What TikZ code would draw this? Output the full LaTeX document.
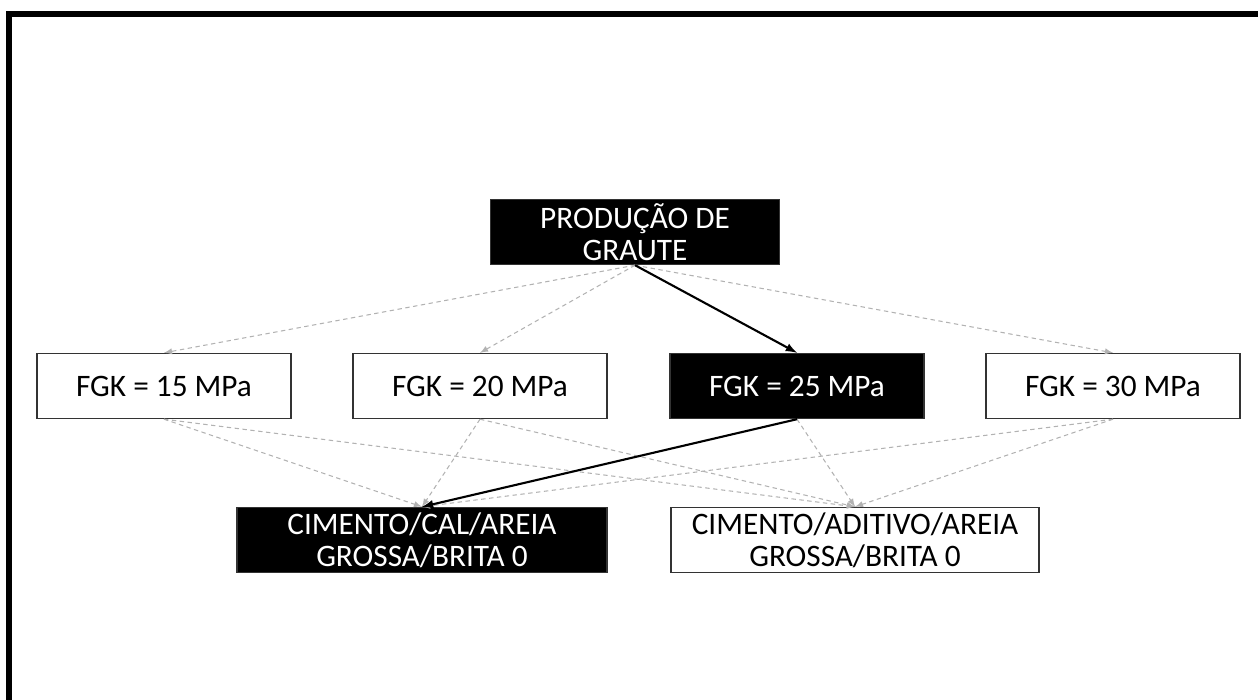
\documentclass[tikz,border=0pt]{standalone}
\usepackage{fontspec}
\setmainfont{Carlito}
\usetikzlibrary{positioning}

\tikzset{
	opt/.style={draw=black!80, line width=0.8pt, fill=white, text=black, inner sep=0pt, align=center, font=\fontsize{17.8}{18.4}\selectfont},
	sel/.style={opt, fill=black, text=white},
	faint/.style={draw=black!30, dashed, dash pattern=on 2.5pt off 2pt, line width=0.6pt, -latex},
	strong/.style={draw=black, line width=1.2pt, -latex}
}

\begin{document}
\begin{tikzpicture}[x=0.02cm, y=-0.02cm]
	\useasboundingbox (0,0) rectangle (1258,700);
	\draw[line width=3.4pt] (9,700) -- (9,14) -- (1258,14);

	\node[sel, minimum width=5.78cm, minimum height=1.3cm] (prod) at (635,232) {PRODUÇÃO DE\\GRAUTE};

	\node[opt, minimum width=5.08cm, minimum height=1.3cm] (f15) at (164,386) {FGK = 15 MPa};
	\node[opt, minimum width=5.08cm, minimum height=1.3cm] (f20) at (480,386) {FGK = 20 MPa};
	\node[sel, minimum width=5.08cm, minimum height=1.3cm] (f25) at (797,386) {FGK = 25 MPa};
	\node[opt, minimum width=5.08cm, minimum height=1.3cm] (f30) at (1113,386) {FGK = 30 MPa};

	\node[sel, minimum width=7.4cm, minimum height=1.3cm] (cal) at (422,540) {CIMENTO/CAL/AREIA\\GROSSA/BRITA 0};
	\node[opt, minimum width=7.36cm, minimum height=1.3cm] (adt) at (855,540) {CIMENTO/ADITIVO/AREIA\\GROSSA/BRITA 0};

	% options not chosen
	\foreach \f in {f15, f20, f30}
		\draw[faint] (prod.south) -- (\f.north);
	\foreach \f in {f15, f20, f30}
		\draw[faint] (\f.south) -- (cal.north);
	\foreach \f in {f15, f20, f25, f30}
		\draw[faint] (\f.south) -- (adt.north);

	% chosen route
	\draw[strong] (prod.south) -- (f25.north);
	\draw[strong] (f25.south) -- (cal.north);
\end{tikzpicture}
\end{document}
